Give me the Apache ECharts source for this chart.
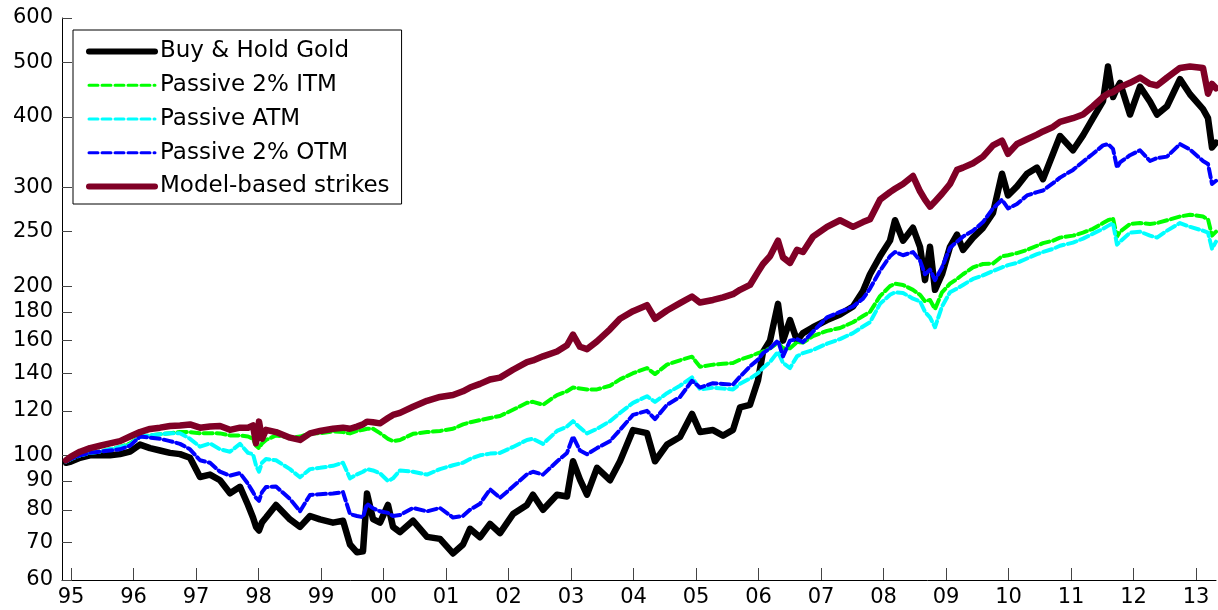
<!DOCTYPE html>
<html>
<head>
<meta charset="utf-8">
<script src="https://cdn.jsdelivr.net/npm/echarts@6/dist/echarts.min.js"></script>
<style>
  html, body { margin: 0; padding: 0; background: #fff; }
  #chart { width: 1218px; height: 610px; }
</style>
</head>
<body>
<div id="chart"></div>
<script>
// Observation dates as decimal years
const dates = [
  1994.92, 1995.000, 1995.144, 1995.304, 1995.464, 1995.624, 1995.784, 1995.944,
  1996.104, 1996.264, 1996.424, 1996.584, 1996.744, 1996.904, 1997.064, 1997.224,
  1997.384, 1997.544, 1997.704, 1997.832, 1997.912, 1997.960, 1998.008, 1998.056,
  1998.120, 1998.280, 1998.504, 1998.664, 1998.824, 1998.984, 1999.192, 1999.352,
  1999.464, 1999.576, 1999.672, 1999.736, 1999.832, 1999.944, 2000.072, 2000.152,
  2000.264, 2000.472, 2000.696, 2000.904, 2001.112, 2001.272, 2001.384, 2001.544,
  2001.704, 2001.864, 2002.072, 2002.296, 2002.392, 2002.552, 2002.776, 2002.936,
  2003.032, 2003.144, 2003.256, 2003.416, 2003.624, 2003.784, 2003.992, 2004.216,
  2004.344, 2004.536, 2004.744, 2004.936, 2005.064, 2005.272, 2005.432, 2005.592,
  2005.704, 2005.864, 2005.992, 2006.072, 2006.184, 2006.312, 2006.392, 2006.504,
  2006.616, 2006.712, 2006.872, 2007.096, 2007.304, 2007.512, 2007.672, 2007.784,
  2007.944, 2008.104, 2008.184, 2008.312, 2008.472, 2008.584, 2008.664, 2008.744,
  2008.824, 2008.936, 2009.064, 2009.176, 2009.272, 2009.432, 2009.592, 2009.752,
  2009.896, 2009.992, 2010.136, 2010.296, 2010.456, 2010.552, 2010.712, 2010.824,
  2011.032, 2011.192, 2011.352, 2011.512, 2011.592, 2011.672, 2011.736, 2011.784,
  2011.944, 2012.104, 2012.264, 2012.376, 2012.536, 2012.744, 2012.904, 2013.112,
  2013.192, 2013.256, 2013.320
];

// Buy & Hold Gold
const buyHold = [
  97, 97.5, 99, 100, 100, 100, 100.5, 101.5,
  104.5, 103, 102, 101, 100.5, 99, 91.5, 92.4,
  90.3, 85.6, 87.9, 81.6, 77.5, 74.6, 73.5, 76,
  77.5, 81.6, 76.9, 74.6, 78, 76.9, 75.9, 76.5,
  69.4, 67.2, 67.5, 85.5, 77, 75.9, 81.6, 74.6,
  73, 76.5, 71.6, 71, 66.9, 69.4, 74, 71.5,
  75.5, 72.7, 78.6, 81.6, 85.1, 80, 85.1, 84.5,
  97.6, 90.5, 85.1, 95, 90.3, 97.6, 110.9, 109.5,
  97.6, 104.5, 107.8, 118.5, 110, 110.9, 108.4, 111,
  121.7, 123, 136, 152.8, 160, 186, 160, 174,
  160, 165, 169, 174, 178, 184, 196, 210,
  226, 241, 262, 241, 254, 235, 205, 235,
  197, 210, 235, 247, 232, 244, 254, 270,
  317, 290, 301, 317, 325, 310, 344, 370,
  349, 371, 398, 427, 492, 434, 450, 460,
  404, 453, 426, 404, 418, 467, 439, 413,
  398, 353, 360
];

// Passive 2% ITM
const itm = [
  97.5, 98.5, 100, 101, 101.5, 102.5, 103.5, 105,
  108, 108.5, 109, 109.5, 110, 110, 109.4, 109.5,
  109.4, 108.5, 108.5, 108, 107, 104, 103, 105,
  106.5, 108.5, 107.5, 108, 109.4, 109.5, 110.3, 110,
  109.4, 110.5, 111, 111.5, 111.5, 109.5, 107, 106,
  106.5, 109.2, 110, 110.5, 111.5, 113.5, 114.5, 115.5,
  116.5, 117.5, 120.5, 124, 124.5, 123, 128, 130,
  132, 131.5, 131, 131, 133, 136.5, 140, 143,
  139.5, 145, 147.6, 149.8, 143.7, 145, 145.5, 146,
  148, 150, 152, 153, 155, 158.7, 155, 155,
  159, 158.7, 163, 166.5, 168.5, 172.5, 177, 180,
  192, 200, 202, 201, 197, 193, 188, 189,
  182, 195, 202, 206, 210, 216, 219, 219.5,
  226, 227, 229, 232, 236, 238.5, 241, 244,
  246, 249, 253, 259, 262, 264, 245, 250,
  258, 259, 258, 259, 262, 266, 268, 266,
  263, 246, 250
];

// Passive ATM
const atm = [
  97.5, 98.5, 100, 101, 101.5, 102.5, 103.5, 104.5,
  108, 108.5, 109, 109.5, 109.5, 107, 103.6, 105,
  102.5, 101.5, 104.8, 101, 100.5, 96, 93.5, 97,
  98.5, 98, 94.5, 91.4, 94.5, 95, 95.8, 97,
  91, 92.5, 93.5, 94.5, 94, 92.9, 90, 91,
  94, 93.5, 92.4, 94.5, 96, 97, 98.5, 100,
  100.7, 101, 103.5, 106.5, 107, 104.8, 110.5, 112.5,
  115, 112, 109.4, 111.5, 115, 119, 124, 127.4,
  124.5, 129, 133, 137.6, 131, 131.9, 131.5, 131,
  134, 137, 140, 143, 146.6, 152.8, 146, 143,
  150, 152, 154, 158, 161, 165, 169.5, 172.5,
  186, 193, 195, 194.5, 190, 188, 180, 176,
  169, 184, 195, 198, 201, 206, 209, 212.8,
  216, 218, 220, 224, 228, 230, 233, 236,
  239, 243, 248, 253, 256, 259, 237, 240,
  249, 250, 246, 244, 251, 259, 255, 251,
  249, 233, 240
];

// Passive 2% OTM
const otm = [
  97.5, 98.5, 100, 101, 101.5, 102, 102.5, 104,
  108, 107.5, 107, 106, 104.8, 102.5, 98, 97,
  93.5, 92, 93, 89, 86, 84, 83, 86,
  87.8, 88, 83.6, 79.5, 85, 85.3, 85.5, 86,
  78.6, 78, 77.6, 82, 80.5, 79.5, 79, 78,
  78.3, 80.6, 79.5, 80.6, 77.5, 78, 80, 82,
  87, 84, 88, 92.5, 93.5, 92.4, 97.5, 101,
  108, 102, 100.4, 103, 106, 111, 118, 120,
  116, 123, 127, 135.7, 132, 134.4, 134, 133.6,
  138, 144, 148, 152, 155, 160, 150, 160,
  161, 159, 166, 176, 180, 184, 190, 198,
  213, 226, 230, 227, 230, 222, 210, 214,
  205, 216, 234, 240, 245, 251, 260, 275,
  285, 275, 280, 290, 294, 296, 305, 312,
  322, 333, 344, 356, 358, 351, 325, 332,
  342, 349, 334, 338, 340, 358, 350, 334,
  330, 304, 308
];

// Model-based strikes
const model = [
  98, 99.5, 101.5, 103, 104, 105, 106, 108,
  110, 111.4, 112, 112.8, 113, 113.5, 112, 112.5,
  112.8, 111, 112, 112, 113, 105, 114.8, 107,
  111, 110, 107.5, 106.5, 109.4, 110.5, 111.5, 112,
  111.5, 112.5, 113.5, 114.8, 114.5, 114, 116.5, 118,
  119, 122, 125, 127, 128, 130, 132, 134,
  136.4, 137.5, 142, 146.5, 147.5, 150, 153, 157,
  164, 156, 154.5, 159.5, 167.6, 175, 180.5, 185,
  175, 181, 186.6, 191.7, 187, 189, 191, 193.5,
  197, 201, 212, 219, 226, 241, 225, 220,
  232, 230, 245, 255, 262, 255, 260, 263,
  285, 294, 298, 304, 314, 295, 285, 277,
  283, 292, 304, 322, 325, 331, 340, 356,
  363, 344, 358, 365, 372, 377, 384, 392,
  398, 404, 418, 434, 440, 443, 448, 452,
  460, 470, 458, 455, 470, 489, 492, 489,
  440, 458, 450
];

// Axis ticks
const yearTicks = [1995, 1996, 1997, 1998, 1999, 2000, 2001, 2002, 2003, 2004,
                   2005, 2006, 2007, 2008, 2009, 2010, 2011, 2012, 2013];
const valueTicks = [60, 70, 80, 90, 100, 120, 140, 160, 180, 200, 250, 300, 400, 500, 600];

const seriesDefs = [
  { name: 'Buy & Hold Gold',     values: buyHold, color: '#000000', width: 6.5, legendWidth: 6, dash: 'solid' },
  { name: 'Passive 2% ITM',      values: itm,     color: '#00ff00', width: 4,   legendWidth: 3, dash: [9, 4] },
  { name: 'Passive ATM',         values: atm,     color: '#00ffff', width: 4,   legendWidth: 3, dash: [9, 4] },
  { name: 'Passive 2% OTM',      values: otm,     color: '#0000ff', width: 4,   legendWidth: 3, dash: [9, 4] },
  { name: 'Model-based strikes', values: model,   color: '#800026', width: 6.5, legendWidth: 6, dash: 'solid' }
];

const font = 'DejaVu Sans, Verdana, sans-serif';
const chart = echarts.init(document.getElementById('chart'), null, { renderer: 'canvas' });

chart.setOption({
  animation: false,
  backgroundColor: '#ffffff',
  grid: { left: 62, right: 2, top: 18, bottom: 30, containLabel: false },
  legend: {
    orient: 'vertical',
    left: 73,
    top: 30,
    padding: [10, 12, 6, 13],
    itemGap: 10.75,
    itemWidth: 66,
    itemHeight: 14,
    backgroundColor: '#ffffff',
    borderColor: '#000000',
    borderWidth: 1,
    itemStyle: { opacity: 0 },
    textStyle: { fontFamily: font, fontSize: 23, color: '#000', lineHeight: 22 },
    data: seriesDefs.map(s => ({
      name: s.name,
      itemStyle: { opacity: 0 },
      lineStyle: { width: s.legendWidth, color: s.color, type: s.dash }
    }))
  },
  xAxis: {
    type: 'value',
    min: 1994.856,
    max: 2013.32,
    splitLine: { show: false },
    axisLine: { show: true, onZero: false, lineStyle: { color: '#000', width: 1 } },
    axisTick: { show: true, inside: true, length: 12, customValues: yearTicks,
                lineStyle: { color: '#444', width: 1 } },
    axisLabel: {
      customValues: yearTicks,
      formatter: v => String(Math.round(v)).slice(2),
      fontFamily: font, fontSize: 21, color: '#000', margin: 7
    }
  },
  yAxis: {
    type: 'log',
    logBase: 10,
    min: 60,
    max: 600,
    splitLine: { show: false },
    axisLine: { show: true, lineStyle: { color: '#000', width: 1 } },
    axisTick: { show: true, inside: true, length: 10, customValues: valueTicks,
                lineStyle: { color: '#444', width: 1 } },
    axisLabel: {
      customValues: valueTicks,
      formatter: v => String(Math.round(v)),
      fontFamily: font, fontSize: 21, color: '#000', margin: 9
    }
  },
  series: seriesDefs.map((s, i) => ({
    name: s.name,
    type: 'line',
    symbol: 'none',
    showSymbol: false,
    z: 2 + i,
    clip: true,
    data: dates.map((d, k) => [d, s.values[k]]),
    itemStyle: { color: s.color },
    lineStyle: { color: s.color, width: s.width, type: s.dash, join: 'round', cap: 'round' }
  }))
});
</script>
</body>
</html>
